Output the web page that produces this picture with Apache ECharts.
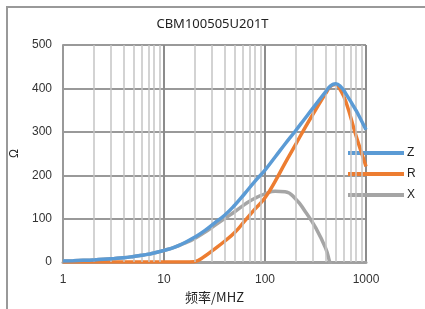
<!DOCTYPE html>
<html>
<head>
<meta charset="utf-8">
<script src="https://cdn.jsdelivr.net/npm/echarts@6/dist/echarts.min.js"></script>
<style>
  html, body { margin: 0; padding: 0; background: #fff; }
  #chart { width: 425px; height: 309px; }
</style>
</head>
<body>
<div id="chart"></div>
<script>
// frequency points (MHz), roughly 10 per decade
const freqs = [1, 1.26, 1.58, 2, 2.51, 3.16, 3.98, 5.01, 6.31, 7.94, 10, 12.6, 15.8, 20, 25.1, 31.6, 39.8, 50.1, 63.1, 79.4, 100, 126, 158, 200, 251, 316, 398, 447, 501, 562, 631, 794, 891, 1000]
const zVals = [2.5, 3.2, 4, 5, 6.3, 8, 10, 13, 16.5, 21, 27, 34, 44, 57, 72, 90, 108, 131, 158, 186, 212, 242, 272, 302, 332, 362, 392, 406, 411, 404, 388, 350, 328, 305]
const rVals = [0, 0, 0, 0, 0, 0, 0, 0, 0, 0, 0, 0, 0, 1, 13, 30, 48, 68, 95, 122, 148, 186, 228, 270, 311, 350, 388, 405, 409, 395, 370, 292, 256, 220]
const xFreqs = [1, 1.26, 1.58, 2, 2.51, 3.16, 3.98, 5.01, 6.31, 7.94, 10, 12.6, 15.8, 20, 25.1, 31.6, 39.8, 50.1, 63.1, 79.4, 100, 126, 158, 200, 251, 316, 398, 437, 501]
const xVals = [2.5, 3.2, 4, 5, 6.3, 8, 10, 13, 16.5, 21, 27, 34, 43, 54, 68, 84, 100, 116, 133, 147, 157, 163, 162, 146, 116, 80, 32, 0, -50]
// minor vertical grid lines 2..9 in each decade
const minorLines = [2, 3, 4, 5, 6, 7, 8, 9, 20, 30, 40, 50, 60, 70, 80, 90, 200, 300, 400, 500, 600, 700, 800, 900]

const pair = (xs, ys) => xs.map((f, i) => [f, ys[i]])

const myChart = echarts.init(document.getElementById('chart'))
const options = {
  animation: false,
  title: {
    text: 'CBM100505U201T',
    left: 'center',
    top: 13,
    textStyle: { fontSize: 13, fontWeight: 'normal', color: '#222', fontFamily: 'Noto Sans' }
  },
  graphic: [{
    type: 'rect',
    shape: { x: 7, y: 7, width: 440, height: 330 },
    style: { fill: 'none', stroke: '#999', lineWidth: 2 },
    silent: true
  }],
  grid: { left: 63, top: 45, right: 59, bottom: 46 },
  legend: {
    orient: 'vertical',
    left: 343,
    top: 141,
    itemWidth: 56,
    itemHeight: 4,
    itemGap: 7,
    icon: 'rect',
    data: ['Z', 'R', 'X'],
    textStyle: { fontSize: 12, color: '#222', lineHeight: 14, padding: [0, 0, 0, -2] }
  },
  xAxis: {
    type: 'log',
    logBase: 10,
    min: 1,
    max: 1000,
    name: '频率/MHZ',
    nameLocation: 'middle',
    nameGap: 27,
    nameTextStyle: { fontSize: 13, color: '#222', fontFamily: 'Noto Sans CJK SC' },
    axisLine: { lineStyle: { color: '#a0a0a0', width: 3 } },
    axisTick: { show: false },
    axisLabel: { fontSize: 12, color: '#333', margin: 12, formatter: v => String(v) },
    splitLine: { show: true, lineStyle: { color: '#8c8c8c', width: 2 } }
  },
  yAxis: {
    type: 'value',
    min: 0,
    max: 500,
    interval: 100,
    name: 'Ω',
    nameLocation: 'middle',
    nameRotate: 90,
    nameGap: 36,
    nameTextStyle: { fontSize: 12, color: '#222' },
    axisLine: { show: true, lineStyle: { color: '#999', width: 2 } },
    axisTick: { show: false },
    axisLabel: { fontSize: 12, color: '#333', margin: 11 },
    splitLine: { show: true, lineStyle: { color: '#999', width: 2 } }
  },
  series: [
    {
      // holder for the minor log grid lines
      name: 'grid',
      type: 'line',
      data: [],
      z: 1,
      silent: true,
      markLine: {
        silent: true,
        symbol: 'none',
        label: { show: false },
        lineStyle: { color: '#c4c4c4', width: 1.5, type: 'solid' },
        data: minorLines.map(v => ({ xAxis: v }))
      }
    },
    {
      name: 'X',
      type: 'line',
      data: pair(xFreqs, xVals),
      smooth: 0.5,
      showSymbol: false,
      z: 3,
      lineStyle: { color: '#a5a5a5', width: 3.5 },
      itemStyle: { color: '#a5a5a5' }
    },
    {
      name: 'R',
      type: 'line',
      data: pair(freqs, rVals),
      smooth: 0.5,
      showSymbol: false,
      z: 4,
      lineStyle: { color: '#ed7d31', width: 3.5 },
      itemStyle: { color: '#ed7d31' }
    },
    {
      name: 'Z',
      type: 'line',
      data: pair(freqs, zVals),
      smooth: 0.5,
      showSymbol: false,
      z: 5,
      lineStyle: { color: '#5b9bd5', width: 3.5 },
      itemStyle: { color: '#5b9bd5' }
    }
  ]
}
myChart.setOption(options)
</script>
</body>
</html>
